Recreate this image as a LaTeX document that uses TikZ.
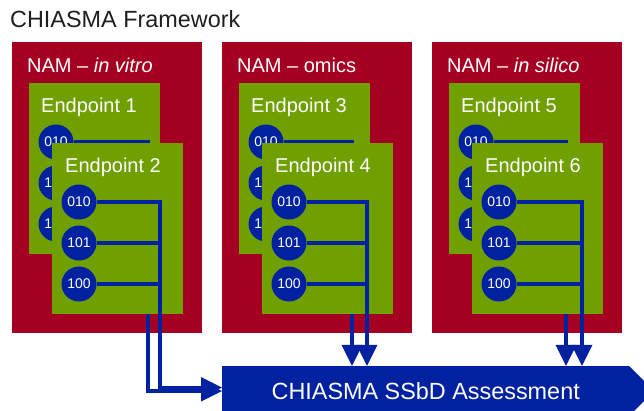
\documentclass[tikz,border=0pt]{standalone}
\usepackage{fontspec}
\setmainfont{Liberation Sans}
\usetikzlibrary{arrows.meta,shapes.symbols}
\definecolor{namF}{HTML}{A50021}
\definecolor{epF}{HTML}{70A000}
\definecolor{bitF}{HTML}{0022A0}
\definecolor{ink}{HTML}{1E1E1E}
\tikzset{
  nam/.style={fill=namF, anchor=north west, minimum width=190pt, minimum height=291pt, inner sep=0pt},
  ep/.style={fill=epF, anchor=north west, minimum width=131pt, minimum height=171pt, inner sep=0pt},
  lbl/.style={anchor=west, text=white, inner sep=0pt, font=\fontsize{20}{24}\selectfont},
  bit/.style={circle, fill=bitF, minimum size=35pt, inner sep=0pt, text=white,
              font=\fontsize{14}{16}\selectfont},
  wire/.style={draw=bitF, line width=3.6pt},
  feed/.style={wire, -{Triangle[length=21pt, width=21pt, line width=0pt]}},
  assess/.style={signal, signal to=east, fill=bitF, text=white, inner sep=0pt,
                 font=\fontsize{23.4}{28}\selectfont},
}

\begin{document}
\begin{tikzpicture}[x=1pt, y=-1pt]
  \useasboundingbox (0,0) rectangle (644,410);
  \clip (0,0) rectangle (644,410);

  \node[anchor=west, inner sep=0pt, text=ink, font=\fontsize{23.4}{28}\selectfont] (title) at (10,19)
    {CHIASMA Framework};

  % ------------------------------------------------ the common assessment
  \node[assess, minimum width=432pt, minimum height=50pt, anchor=west] (assess) at (222,391)
    {CHIASMA SSbD Assessment};
  \coordinate (in0) at (assess.west);
  \coordinate (in1) at ([yshift=3.5pt]assess.west);

  % ------------------------------------------------ one NAM, two endpoints each
  \foreach \g/\x/\namtext/\ja/\jb in {1/12/{NAM -- \textit{in vitro}}/148/160,
                                      2/222/{NAM -- omics}/352/367,
                                      3/432/{NAM -- \textit{in silico}}/566/582} {
    \pgfmathtruncatemacro\ea{2*\g-1}
    \pgfmathtruncatemacro\eb{2*\g}
    \node[nam] (nam\g) at (\x,42) {};
    \node[lbl] (namt\g) at (\x+15,65) {\namtext};

    % back endpoint
    \node[ep] (ep\ea) at (\x+17,83) {};
    \node[lbl] (ept\ea) at (\x+29,107) {Endpoint \ea};
    \coordinate (ja\g) at (\ja,142);
    \foreach \bits [count=\i] in {010,101,100} {
      \node[bit] (bit\ea\i) at (\x+44,101+41*\i) {\bits};
    }
    \foreach \i in {2,3} {
      \draw[wire] (bit\ea\i.east) -- (bit\ea\i.east -| ja\g);
    }
    \ifnum\g=1
      \draw[feed] (bit\ea1.east) -| (ja\g |- in0) -- (in0);
    \else
      \draw[feed] (bit\ea1.east) -| (ja\g |- assess.north);
    \fi

    % front endpoint
    \node[ep] (ep\eb) at (\x+40,143) {};
    \node[lbl] (ept\eb) at (\x+53,167) {Endpoint \eb};
    \coordinate (jb\g) at (\jb,202);
    \foreach \bits [count=\i] in {010,101,100} {
      \node[bit] (bit\eb\i) at (\x+67,161+41*\i) {\bits};
    }
    \foreach \i in {2,3} {
      \draw[wire] (bit\eb\i.east) -- (bit\eb\i.east -| jb\g);
    }
    \ifnum\g=1
      \draw[feed] (bit\eb1.east) -| (jb\g |- in1) -- (in1);
    \else
      \draw[feed] (bit\eb1.east) -| (jb\g |- assess.north);
    \fi
  }
\end{tikzpicture}
\end{document}
